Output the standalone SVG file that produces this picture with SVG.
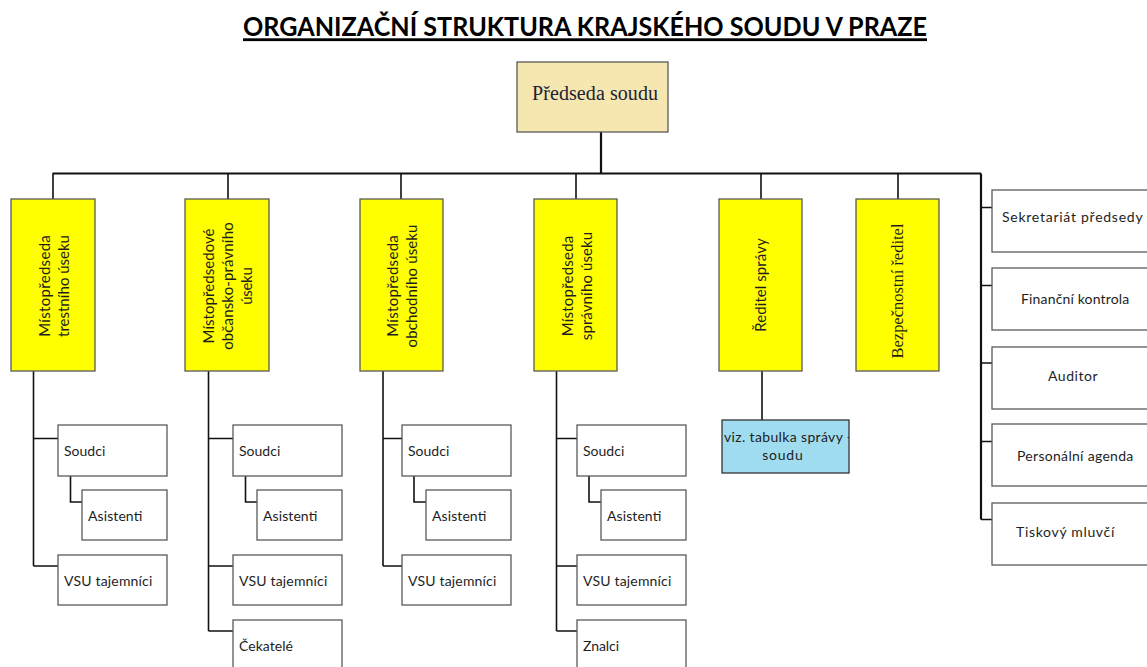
<svg xmlns="http://www.w3.org/2000/svg" width="1147" height="667" viewBox="0 0 1147 667">
<style>
.box{fill:#ffffff;stroke:#5a5a5a;stroke-width:1.3}
.yb{fill:#ffff00;stroke:#5a5a5a;stroke-width:1.3}
.t{font-family:Lato,"Open Sans",sans-serif;font-size:14px;fill:#1e1e1e}
.yt{font-family:Lato,"Open Sans",sans-serif;font-size:15px;fill:#1e1e1e;text-anchor:middle}
.ln{stroke:#111;stroke-width:1.6;fill:none}
.lnb{stroke:#111;stroke-width:2.2;fill:none}
</style>
<defs>
<clipPath id="clipBlue"><rect x="722" y="420" width="127" height="53"/></clipPath>
</defs>
<rect width="1147" height="667" fill="#ffffff"/>

<g id="title">
<text x="243" y="36" textLength="684" lengthAdjust="spacingAndGlyphs" style="font-family:Lato,'Open Sans',sans-serif;font-weight:bold;font-size:26px;fill:#000">ORGANIZAČNÍ STRUKTURA KRAJSKÉHO SOUDU V PRAZE</text>
<rect x="243" y="38.3" width="684" height="2.8" fill="#000"/>
</g>

<g id="connectors">
<path class="lnb" d="M601 132V173.5M52.5 173.5H981M981 173.5V519.5"/>
<path class="ln" d="M53 173.5V199M228 173.5V199M401 173.5V199M576 173.5V199M761 173.5V199M898 173.5V199"/>
<path class="ln" d="M981 207.5H992M981 285.5H992M981 363H992M981 441.5H992M981 519.5H992"/>
<path class="ln" d="M762 371V420"/>
<path class="ln" d="M33.5 371V566M33.5 438.5H58M33.5 566H58M70.5 476V502H82"/>
<path class="ln" d="M208.5 371V631M208.5 438.5H233M208.5 566H233M208.5 631H233M245.5 476V502H257"/>
<path class="ln" d="M383 371V566M383 438.5H402M383 566H402M414 476V502H426"/>
<path class="ln" d="M556.5 371V631M556.5 438.5H577M556.5 566H577M556.5 631H577M589 476V502H601"/>
</g>

<g id="predseda">
<rect x="517" y="62" width="151" height="70" fill="#f5e7af" stroke="#5a5a5a" stroke-width="1.3"/>
<text x="595" y="100" text-anchor="middle" textLength="126" style="font-family:'Liberation Serif',serif;font-size:20px;fill:#1c2238">Předseda soudu</text>
</g>

<g id="mp-trestni">
<rect class="yb" x="11" y="199" width="84" height="172"/>
<g transform="translate(53,286) rotate(-90)">
<text class="yt" x="0" y="-3.5" textLength="101.7">Místopředseda</text>
<text class="yt" x="0" y="15.5" textLength="102">trestního úseku</text>
</g>
</g>

<g id="mp-obcansko">
<rect class="yb" x="185" y="199" width="84" height="172"/>
<g transform="translate(227,286) rotate(-90)">
<text class="yt" x="0" y="-13.5" textLength="115">Místopředsedové</text>
<text class="yt" x="0" y="5.5" textLength="127.7">občansko-právního</text>
<text class="yt" x="0" y="24.5" textLength="37.7">úseku</text>
</g>
</g>

<g id="mp-obchodni">
<rect class="yb" x="360" y="199" width="83" height="172"/>
<g transform="translate(401.5,286) rotate(-90)">
<text class="yt" x="0" y="-3.5" textLength="101.7">Místopředseda</text>
<text class="yt" x="0" y="15.5" textLength="123">obchodního úseku</text>
</g>
</g>

<g id="mp-spravni">
<rect class="yb" x="534" y="199" width="83" height="172"/>
<g transform="translate(576,286) rotate(-90)">
<text class="yt" x="0" y="-3.5" textLength="100.7">Místopředseda</text>
<text class="yt" x="0" y="15.5" textLength="108.3">správního úseku</text>
</g>
</g>

<g id="reditel-spravy">
<rect class="yb" x="719" y="199" width="83" height="172"/>
<g transform="translate(761,285) rotate(-90)">
<text class="yt" x="0" y="5" textLength="93.4">Ředitel správy</text>
</g>
</g>

<g id="bezpecnostni-reditel">
<rect class="yb" x="856" y="199" width="83" height="172"/>
<g transform="translate(897.5,291) rotate(-90)">
<text x="0" y="5" text-anchor="middle" textLength="135" style="font-family:'Liberation Serif',serif;font-size:16.5px;fill:#1e1e1e">Bezpečnostní ředitel</text>
</g>
</g>

<g id="viz-tabulka">
<rect x="722" y="420" width="127" height="53" fill="#a0dcef" stroke="#333" stroke-width="1.3"/>
<g clip-path="url(#clipBlue)">
<text class="t" x="724" y="442" textLength="128">viz. tabulka správy -</text>
</g>
<text class="t" x="782.5" y="460" text-anchor="middle" textLength="40.4">soudu</text>
</g>

<g id="c1-soudci"><rect class="box" x="58" y="425" width="109" height="51"/><text class="t" x="64" y="456" textLength="41.3">Soudci</text></g>
<g id="c1-asistenti"><rect class="box" x="82" y="490" width="85" height="50"/><text class="t" x="88" y="521" textLength="54.3">Asistenti</text></g>
<g id="c1-vsu"><rect class="box" x="58" y="555" width="109" height="50"/><text class="t" x="64" y="586" textLength="88.3">VSU tajemníci</text></g>

<g id="c2-soudci"><rect class="box" x="233" y="425" width="109" height="51"/><text class="t" x="239" y="456" textLength="41.3">Soudci</text></g>
<g id="c2-asistenti"><rect class="box" x="257" y="490" width="85" height="50"/><text class="t" x="263" y="521" textLength="54.3">Asistenti</text></g>
<g id="c2-vsu"><rect class="box" x="233" y="555" width="109" height="50"/><text class="t" x="239" y="586" textLength="88.3">VSU tajemníci</text></g>
<g id="c2-cekatele"><rect class="box" x="233" y="620" width="109" height="50"/><text class="t" x="239" y="651" textLength="54">Čekatelé</text></g>

<g id="c3-soudci"><rect class="box" x="402" y="425" width="109" height="51"/><text class="t" x="408" y="456" textLength="41.3">Soudci</text></g>
<g id="c3-asistenti"><rect class="box" x="426" y="490" width="85" height="50"/><text class="t" x="432" y="521" textLength="54.3">Asistenti</text></g>
<g id="c3-vsu"><rect class="box" x="402" y="555" width="109" height="50"/><text class="t" x="408" y="586" textLength="88.3">VSU tajemníci</text></g>

<g id="c4-soudci"><rect class="box" x="577" y="425" width="109" height="51"/><text class="t" x="583" y="456" textLength="41.3">Soudci</text></g>
<g id="c4-asistenti"><rect class="box" x="601" y="490" width="85" height="50"/><text class="t" x="607" y="521" textLength="54.3">Asistenti</text></g>
<g id="c4-vsu"><rect class="box" x="577" y="555" width="109" height="50"/><text class="t" x="583" y="586" textLength="88.3">VSU tajemníci</text></g>
<g id="c4-znalci"><rect class="box" x="577" y="620" width="109" height="50"/><text class="t" x="583" y="651" textLength="36">Znalci</text></g>

<g id="sekretariat"><rect class="box" x="992" y="190" width="170" height="62"/><text class="t" x="1002" y="222" textLength="140.6">Sekretariát předsedy</text></g>
<g id="financni-kontrola"><rect class="box" x="992" y="268" width="170" height="62"/><text class="t" x="1021" y="304" textLength="108.3">Finanční kontrola</text></g>
<g id="auditor"><rect class="box" x="992" y="347" width="170" height="62"/><text class="t" x="1048" y="381" textLength="49.7">Auditor</text></g>
<g id="personalni-agenda"><rect class="box" x="992" y="424" width="170" height="62"/><text class="t" x="1017" y="461" textLength="116.3">Personální agenda</text></g>
<g id="tiskovy-mluvci"><rect class="box" x="992" y="503" width="170" height="62"/><text class="t" x="1016" y="537" textLength="98.3">Tiskový mluvčí</text></g>
</svg>
